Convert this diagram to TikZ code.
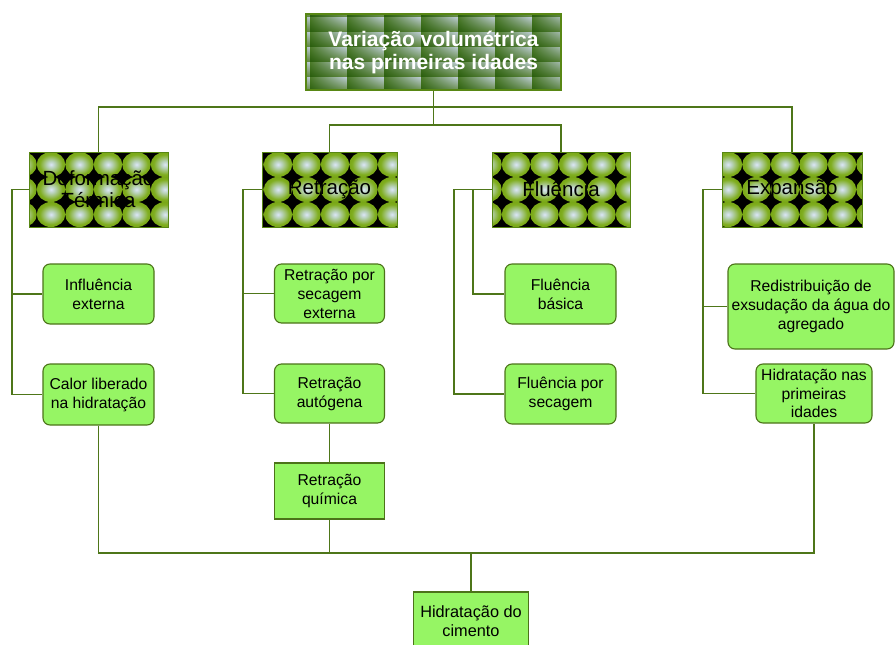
\documentclass[tikz,border=0pt]{standalone}
\usepackage{fontspec}
\setmainfont{Liberation Sans}
\usetikzlibrary{shadings}

\definecolor{linecol}{RGB}{78,118,25}
\definecolor{leaffill}{RGB}{150,245,100}
\definecolor{leafline}{RGB}{76,115,25}
\definecolor{catline}{RGB}{88,135,20}
\definecolor{tileA}{RGB}{40,92,12}
\definecolor{tileB}{RGB}{75,122,40}
\definecolor{tileC}{RGB}{95,135,60}
\definecolor{tileD}{RGB}{190,205,215}

% light-centred olive sphere
\pgfdeclareradialshading{olivesphere}{\pgfpoint{0bp}{0bp}}{%
  rgb(0bp)=(0.86,0.9,0.97);
  rgb(7bp)=(0.72,0.82,0.72);
  rgb(20bp)=(0.5,0.68,0.12);
  rgb(36bp)=(0.42,0.6,0.02);
  rgb(50bp)=(0.38,0.55,0)}

\tikzset{
  conn/.style={draw=linecol, line width=1.3pt},
  leaf/.style={draw=leafline, line width=1.1pt, fill=leaffill, rounded corners=7pt,
    align=center, inner sep=0pt, font=\fontsize{15.7}{19}\selectfont},
  sqleaf/.style={leaf, rounded corners=0pt},
  catbox/.style={draw=catline, line width=1pt, align=center, inner sep=0pt,
    text=black, font=\fontsize{20.5}{22}\selectfont,
    minimum height=75},
  titlebox/.style={draw=catline, line width=1.5pt, align=center, inner sep=0pt,
    text=white, font=\bfseries\fontsize{21}{23}\selectfont},
}

% sphere texture: left, top, right, bottom, first sphere centre offset
\newcommand\spheregrid[5]{%
  \begin{scope}
    \clip (#1,#2) rectangle (#3,#4);
    \fill[black] (#1,#2) rectangle (#3,#4);
    \foreach \i in {-1,...,5}{
      \foreach \j in {0,1,2}{
        \shade[shading=olivesphere]
          ({#1+#5+28.5*\i},{#2+12.5+25*\j}) ellipse (14.25 and 12.5);
      }
    }
  \end{scope}}

\begin{document}
\begin{tikzpicture}[x=1pt,y=-1pt]
\clip (0,0) rectangle (895,645);

% title tiles
\begin{scope}
  \clip (306,14) rectangle (561,90);
  \foreach \i in {-1,...,7}{
    \foreach \j in {-1,...,5}{
      \shade[lower left=tileA, upper left=tileB, lower right=tileC, upper right=tileD]
        ({273+37*\i},{2+15*\j}) rectangle +(37,15);
    }
  }
\end{scope}
\node[titlebox, minimum width=255, minimum height=76] (top) at (433.5,52)
  {Variação volumétrica\\nas primeiras idades};

% category boxes
\spheregrid{29}{152}{168}{227}{22}
\spheregrid{262}{152}{397}{227}{16}
\spheregrid{492}{152}{630}{227}{24}
\spheregrid{722}{152}{862}{227}{6}
\node[catbox, minimum width=139] (def) at (98.5,189.5) {Deformação\\Térmica};
\node[catbox, minimum width=135] (ret) at (329.5,189.5) {Retração};
\node[catbox, minimum width=138] (flu) at (561,189.5) {Fluência};
\node[catbox, minimum width=140] (exp) at (792,189.5) {Expansão};

% leaves
\node[leaf, minimum width=111, minimum height=60] (infl) at (98.5,294) {Influência\\externa};
\node[leaf, minimum width=111, minimum height=61] (calor) at (98.5,394.5) {Calor liberado\\na hidratação};
\node[leaf, minimum width=110, minimum height=59] (rsec) at (329.5,293.5) {Retração por\\secagem\\externa};
\node[leaf, minimum width=110, minimum height=59] (rauto) at (329.5,393.5) {Retração\\autógena};
\node[sqleaf, minimum width=110, minimum height=56] (quim) at (329.5,491) {Retração\\química};
\node[leaf, minimum width=111, minimum height=60] (flub) at (560.5,294) {Fluência\\básica};
\node[leaf, minimum width=111, minimum height=60] (flus) at (560.5,394) {Fluência por\\secagem};
\node[leaf, minimum width=166, minimum height=85] (redis) at (811,306.5)
  {Redistribuição de\\exsudação da água do\\agregado};
\node[leaf, minimum width=116, minimum height=59, font=\fontsize{15.7}{18.5}\selectfont] (hidn) at (814,393.5)
  {Hidratação nas\\primeiras\\idades};
\node[sqleaf, minimum width=115, minimum height=58, font=\fontsize{16.3}{19}\selectfont] (cim) at (471,621)
  {Hidratação do\\cimento};

% junctions
\coordinate (j1) at (433.5,107);
\coordinate (j2) at (433.5,125);
\coordinate (j3) at (471,553);
\coordinate (dv) at (12,189.5);
\coordinate (rv) at (243,189.5);
\coordinate (fv1) at (454,189.5);
\coordinate (fv2) at (473,189.5);
\coordinate (ev) at (703,189.5);

% top connectors
\draw[conn] (top.south) -- (j2);
\draw[conn] (def.north) |- (j1) -| (exp.north);
\draw[conn] (ret.north) |- (j2) -| (flu.north);

% branches
\draw[conn] (def.west) -- (dv) |- (calor.west);
\draw[conn] (dv |- infl.west) -- (infl.west);
\draw[conn] (ret.west) -- (rv) |- (rauto.west);
\draw[conn] (rv |- rsec.west) -- (rsec.west);
\draw[conn] (flu.west) -- (fv1) |- (flus.west);
\draw[conn] (fv2) |- (flub.west);
\draw[conn] (exp.west) -- (ev) |- (hidn.west);
\draw[conn] (ev |- redis.west) -- (redis.west);
\draw[conn] (rauto.south) -- (quim.north);

% bottom connectors
\draw[conn] (calor.south) |- (j3) -| (hidn.south);
\draw[conn] (quim.south) -- (quim.south |- j3);
\draw[conn] (j3) -- (cim.north);
\end{tikzpicture}
\end{document}
